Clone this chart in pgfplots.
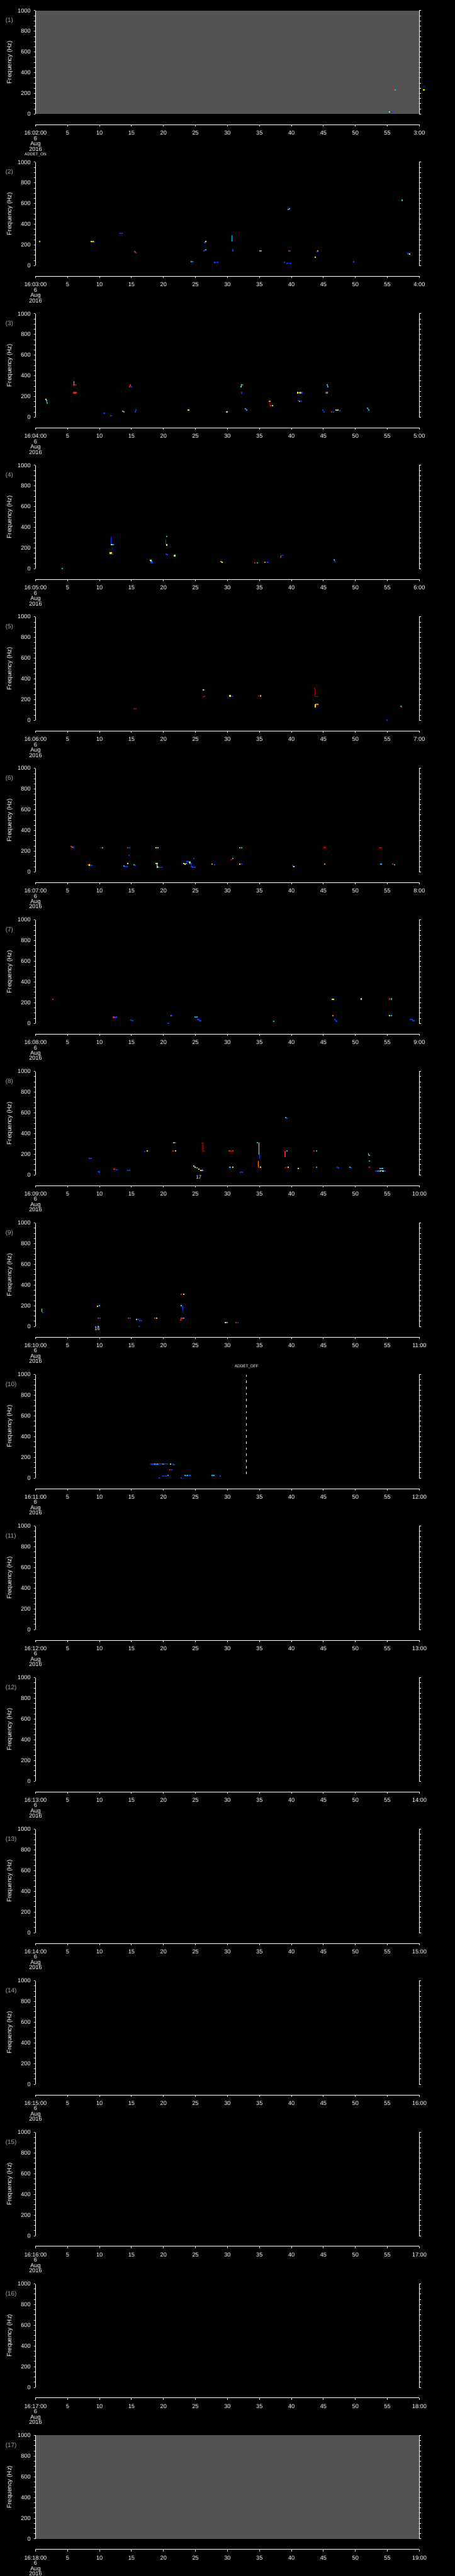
\documentclass[border=0pt]{standalone}
\usepackage{fontspec}
\setmainfont{Liberation Sans}
\usepackage{pgfplots}
\pgfplotsset{compat=1.18}
\definecolor{bg}{RGB}{84,84,84}
\definecolor{jblue}{RGB}{0,60,255}
\definecolor{jcyan}{RGB}{0,190,255}
\definecolor{jteal}{RGB}{40,255,200}
\definecolor{jgreen}{RGB}{150,255,90}
\definecolor{jyellow}{RGB}{255,235,0}
\definecolor{jorange}{RGB}{255,140,0}
\definecolor{jred}{RGB}{255,20,0}
\definecolor{jdred}{RGB}{170,0,0}
\definecolor{lab}{RGB}{170,170,170}
\newcommand{\ticfont}{\fontsize{6.5}{6}\selectfont}
\newcommand{\lblfont}{\fontsize{7}{8}\selectfont}
\pgfplotsset{
  panel/.style={scale only axis, width=432pt, height=116.5pt, anchor=north west,
    xmin=0, xmax=60, ymin=0, ymax=1000, clip=false,
    axis line style={draw=none}, xtick=\empty,
    ytick={0,200,...,1000}, minor y tick num=3, ytick pos=both, yticklabel pos=left,
    tick align=outside, major tick length=2pt, minor tick length=1.6pt,
    tick style={white, line width=0.7pt},
    yticklabel style={white, font=\ticfont},
    /pgf/number format/assume math mode=true,
    /pgf/number format/1000 sep={},
    ylabel={Frequency (Hz)},
    every axis y label/.style={at={(rel axis cs:0,0.5)}, rotate=90, anchor=center, yshift=29pt, white, font=\lblfont},
    execute at end axis={\draw[white, line width=0.8pt] (rel axis cs:0,0) -- (rel axis cs:0,1) (rel axis cs:1,0) -- (rel axis cs:1,1);}
  },
  timeax/.style={scale only axis, width=432pt, height=10pt, anchor=south west,
    xmin=0, xmax=60, ymin=0, ymax=1, hide y axis, axis x line*=bottom,
    x axis line style={white, line width=0.7pt},
    xtick={0,5,...,60}, tick align=outside, major tick length=2pt,
    tick style={white, line width=0.7pt},
    xticklabel style={white, font=\ticfont, align=center, yshift=-1.5pt}
  },
  seg/.style={line width=0.7pt, mark=square*, mark size=0.4pt, mark options={solid}},
}
\newcommand{\p}[2]{\addplot[#1,seg] coordinates {#2};}
\newcommand{\vl}[2]{\addplot[#1,line width=0.5pt] coordinates {#2};}
\newcommand{\timeaxis}[3]{\begin{axis}[timeax, at={(40pt,-#1pt)}, xticklabels={{#2\\6\\Aug\\2016},5,10,15,20,25,30,35,40,45,50,55,#3}]\end{axis}}
\begin{document}
\begin{tikzpicture}
\useasboundingbox (0,0) rectangle (512pt,-2901pt);
\fill[black] (0,0) rectangle (512pt,-2901pt);
\foreach \k in {1,...,17} {\node[anchor=west, lab, font=\lblfont, inner sep=0pt] at (6pt, {-(23.5+170.667*(\k-1))*1pt}) {(\k)};}

% ---------- panel 1
\begin{axis}[panel, at={(40pt,-12pt)}, axis background/.style={fill=bg}]
\p{jred}{(55.9,233)} \p{jcyan}{(56.2,233)}
\p{jblue}{(55.5,23) (55.8,23)} \p{jgreen}{(55.3,23)}
\p{jyellow}{(60.7,233)}
\end{axis}
\timeaxis{140.5}{16:02:00}{3:00}
\node[white, font=\fontsize{4.5}{5}\selectfont] at (40pt,-174pt) {ADDET\_ON};

% ---------- panel 2
\begin{axis}[panel, at={(40pt,-182.67pt)}]
\p{jyellow}{(0.66,232)}
\p{jyellow}{(8.7,232) (9.0,232)} \p{jblue}{(9.2,228)}
\p{jblue}{(13.2,310) (13.5,310)}
\p{jred}{(15.5,135) (15.6,130)} \p{jblue}{(15.7,125)}
\p{jcyan}{(24.4,40)} \p{jblue}{(24.6,40)}
\p{jblue}{(26.4,220) (26.5,230)} \p{jyellow}{(26.6,232)}
\p{jblue}{(26.35,140) (26.45,150)} \p{jcyan}{(26.6,157)}
\p{jblue}{(28.0,30) (28.5,35)}
\vl{jcyan}{(30.7,232) (30.7,297)}
\p{jblue}{(30.8,140) (30.8,157)}
\p{jorange}{(35.1,142)} \p{jcyan}{(35.3,140)}
\p{jred}{(39.6,140)} \p{jblue}{(39.8,140)}
\p{jcyan}{(39.5,542) (39.7,549)}
\p{jblue}{(38.9,32)} \p{jblue}{(39.3,23) (39.9,23)}
\p{jyellow}{(43.7,80)}
\p{jblue}{(44.0,138)} \p{jorange}{(44.1,143)}
\p{jblue}{(49.7,36)}
\p{jcyan}{(57.3,628) (57.3,636)}
\p{jblue}{(58.2,115) (58.4,115)} \p{jyellow}{(58.5,113)}
\end{axis}
\timeaxis{311.17}{16:03:00}{4:00}

% ---------- panel 3
\begin{axis}[panel, at={(40pt,-353.33pt)}]
\p{jyellow}{(1.64,171)} \p{jcyan}{(1.7,160) (1.8,137)}
\vl{jteal}{(5.95,314) (5.95,347)} \p{jred}{(6.0,314)} \p{jblue}{(6.3,314)}
\p{jred}{(6.0,236) (6.3,236)}
\p{jblue}{(10.7,39) (10.8,39)}
\p{jblue}{(11.8,13)}
\p{jorange}{(13.6,59)} \p{jcyan}{(13.8,52)}
\p{jred}{(14.7,294) (14.8,309)} \p{jblue}{(15.0,296)}
\p{jblue}{(15.6,50) (15.7,69)}
\p{jyellow}{(23.9,69)}
\p{jgreen}{(29.9,51)}
\p{jteal}{(32.1,293) (32.2,314)} \p{jcyan}{(32.3,314)}
\p{jblue}{(32.2,236)}
\p{jcyan}{(32.8,83) (33.0,69)}
\p{jorange}{(36.6,154)} \vl{jdred}{(36.6,154) (36.6,111)} \p{jred}{(36.7,111)} \p{jyellow}{(37.0,111)}
\p{jyellow}{(41.0,236) (41.4,236)} \p{jcyan}{(41.5,236)} \p{jblue}{(41.7,236)}
\p{jblue}{(41.1,161)} \p{jorange}{(41.3,156)} \p{jblue}{(41.6,154)}
\p{jblue}{(44.9,69) (45.1,50)}
\p{jcyan}{(45.6,314) (45.7,294)}
\p{jred}{(45.4,236)} \p{jcyan}{(45.6,236)}
\p{jred}{(46.3,51)} \p{jblue}{(46.6,51)}
\p{jgreen}{(47.0,69) (47.3,69)} \p{jblue}{(47.6,64)}
\p{jcyan}{(51.9,86) (52.1,69)}
\end{axis}
\timeaxis{481.83}{16:04:00}{5:00}

% ---------- panel 4
\begin{axis}[panel, at={(40pt,-524pt)}]
\p{jcyan}{(4.2,0)}
\vl{jblue}{(11.8,234) (11.8,311)} \p{jyellow}{(11.9,231)} \p{jcyan}{(12.1,234)}
\p{jyellow}{(11.7,151) (11.85,151)} \p{jblue}{(12.0,143)}
\p{jyellow}{(18.0,83)} \p{jcyan}{(18.1,70)} \p{jblue}{(18.2,60)}
\vl{jblue}{(20.35,230) (20.35,283)} \p{jyellow}{(20.5,230)}
\p{jcyan}{(20.5,314)}
\p{jblue}{(20.4,140) (20.6,136)}
\p{jgreen}{(21.7,127) (21.8,127)}
\p{jorange}{(29.0,67)} \p{jyellow}{(29.2,63)}
\p{jred}{(34.3,59)} \p{jcyan}{(34.7,59)}
\p{jorange}{(35.9,63)} \p{jblue}{(36.3,63)}
\p{jred}{(38.3,111)} \vl{jcyan}{(38.4,115) (38.4,131)} \p{jblue}{(38.6,131)}
\p{jcyan}{(46.7,86) (46.8,67)} \p{jblue}{(46.8,67)}
\end{axis}
\timeaxis{652.5}{16:05:00}{6:00}

% ---------- panel 5
\begin{axis}[panel, at={(40pt,-694.67pt)}]
\p{jdred}{(15.4,111) (15.7,111)}
\p{jdred}{(26.2,227) (26.4,231)}
\p{jgreen}{(26.2,296)} \p{jblue}{(26.4,296)}
\p{jyellow}{(30.4,236)} \p{jblue}{(30.7,234)}
\p{jdred}{(34.9,231)} \p{jorange}{(35.2,236)}
\addplot[jdred, line width=0.7pt] coordinates {(43.5,309) (43.7,309) (43.7,231) (44.2,231)};
\p{jorange}{(43.8,154) (44.1,154)} \p{jyellow}{(43.7,133) (43.7,150)}
\p{jblue}{(54.9,0)}
\p{jcyan}{(57.1,137)} \p{jred}{(57.2,131)}
\end{axis}
\timeaxis{823.17}{16:06:00}{7:00}

% ---------- panel 6
\begin{axis}[panel, at={(40pt,-865.33pt)}]
\p{jred}{(5.6,244)} \p{jorange}{(5.75,240)} \p{jblue}{(5.9,236)}
\p{jdred}{(10.2,231)} \p{jcyan}{(10.5,231)}
\p{jred}{(14.4,234)} \p{jblue}{(14.7,231)}
\p{jblue}{(14.6,159)}
\p{jyellow}{(18.8,234)} \p{jteal}{(19.1,231)}
\p{jgreen}{(18.8,79) (19.0,79) (19.0,47) (19.3,43)} \p{jblue}{(19.3,43) (19.7,43)}
\p{jred}{(8.2,70)} \p{jyellow}{(8.4,66)} \p{jblue}{(8.6,64) (8.8,64)}
\p{jcyan}{(13.8,54)} \p{jblue}{(14.0,50) (14.3,50)}
\p{jyellow}{(14.45,79)}
\p{jcyan}{(15.4,69)} \p{jblue}{(15.6,64)}
\p{jyellow}{(23.2,79) (23.4,76)} \p{jcyan}{(23.6,79)}
\p{jblue}{(23.7,97) (23.9,97)} \p{jgreen}{(24.1,93) (24.2,83)} \p{jblue}{(24.3,80) (24.4,50) (24.6,43) (24.9,43)}
\p{jblue}{(24.7,129)}
\p{jorange}{(27.6,73)} \p{jblue}{(28.0,70)}
\p{jdred}{(30.6,116)} \p{jcyan}{(30.8,129)}
\p{jorange}{(31.9,234)} \p{jcyan}{(32.2,231)}
\p{jyellow}{(31.9,73)} \p{jblue}{(32.2,73)}
\p{jblue}{(40.2,64) (40.3,50)} \p{jyellow}{(40.4,50)}
\p{jdred}{(45.1,236) (45.3,236)}
\p{jorange}{(45.2,77)}
\p{jdred}{(53.8,231) (54.0,231)}
\p{jcyan}{(54.0,77)}
\p{jred}{(55.8,73)} \p{jcyan}{(56.1,69)}
\end{axis}
\timeaxis{993.83}{16:07:00}{8:00}

% ---------- panel 7
\begin{axis}[panel, at={(40pt,-1036pt)}]
\p{jred}{(2.7,231)}
\p{jred}{(12.2,59)} \p{jblue}{(12.5,56) (12.6,59)}
\p{jblue}{(14.9,30) (15.2,24)}
\p{jblue}{(20.7,0) (20.8,0)}
\p{jorange}{(21.2,73)} \p{jblue}{(21.3,73)}
\p{jcyan}{(24.9,60) (25.2,60)}
\p{jblue}{(25.3,40) (25.5,40) (25.6,26) (25.8,26)}
\p{jcyan}{(37.2,21)}
\p{jyellow}{(46.4,234) (46.6,234)}
\p{jorange}{(46.5,77)}
\p{jblue}{(46.8,36) (47.0,26) (47.1,20)}
\p{jgreen}{(50.9,236)}
\p{jred}{(55.3,236)} \p{jcyan}{(55.6,236)}
\p{jyellow}{(55.3,77)} \p{jcyan}{(55.6,77)}
\p{jblue}{(58.6,39) (58.9,39)}
\p{jblue}{(59.0,26) (59.2,26)}
\end{axis}
\timeaxis{1164.5}{16:08:00}{9:00}

% ---------- panel 8
\begin{axis}[panel, at={(40pt,-1206.67pt)}]
\p{jblue}{(8.4,159) (8.7,159)}
\p{jblue}{(9.8,31) (10.0,29)}
\p{jred}{(12.3,56)} \p{jblue}{(12.6,52) (12.7,50)}
\p{jblue}{(14.4,43) (14.7,43)}
\p{jblue}{(17.1,229)} \p{jyellow}{(17.5,231)}
\p{jorange}{(21.6,313) (21.8,313)} \p{jblue}{(21.9,309)}
\p{jred}{(21.5,231)} \p{jyellow}{(21.9,231)}
\addplot[jdred, line width=0.7pt] coordinates {(25.9,309) (26.2,309) (26.2,231) (26.5,231)};
\p{jgreen}{(24.7,86)} \p{jyellow}{(24.9,77)} \p{jcyan}{(25.2,70)} \p{jyellow}{(25.5,57)} \p{jyellow}{(25.8,43) (26.1,43)} \p{jblue}{(26.2,43)}
\p{jcyan}{(30.4,77)} \p{jyellow}{(30.8,77)}
\p{jred}{(30.3,231) (30.8,231)}
\p{jblue}{(32.0,26) (32.3,26)}
\p{jcyan}{(34.7,309)} \vl{jyellow}{(34.95,309) (34.95,197)} \vl{jblue}{(35.0,197) (35.0,157)}
\vl{jorange}{(34.8,133) (34.8,77)} \p{jred}{(34.9,77)} \p{jyellow}{(35.2,77)}
\addplot[jred, line width=0.9pt] coordinates {(39.0,231) (39.0,171)}; \p{jcyan}{(39.3,231)}
\p{jdred}{(39.0,71) (39.2,74)} \p{jyellow}{(39.5,77)}
\p{jcyan}{(39.1,554)} \p{jblue}{(39.3,547)}
\p{jyellow}{(41.1,62)}
\p{jred}{(43.5,231)} \p{jcyan}{(43.9,231)}
\p{jdred}{(43.4,77)} \p{jcyan}{(43.9,77)}
\p{jblue}{(47.2,74) (47.4,70)}
\p{jcyan}{(49.1,77)} \p{jblue}{(49.3,71)}
\vl{jteal}{(52.0,207) (52.0,190)} \p{jcyan}{(52.2,189)}
\p{jcyan}{(52.2,133)}
\p{jred}{(52.2,77)}
\p{jcyan}{(53.9,60) (54.2,60)}
\p{jblue}{(53.2,36) (53.5,40)} \p{jcyan}{(53.6,39)} \p{jgreen}{(53.9,39) (54.3,39)} \p{jblue}{(54.6,39)}
\end{axis}
\timeaxis{1335.17}{16:09:00}{10:00}
\node[white, font=\fontsize{5.5}{6}\selectfont] at (223.75pt,-1326pt) {17};

% ---------- panel 9
\begin{axis}[panel, at={(40pt,-1377.33pt)}]
\vl{jgreen}{(1.0,169) (1.0,143)} \p{jblue}{(1.1,133)}
\p{jyellow}{(9.7,196)} \p{jcyan}{(10.0,200)}
\p{jred}{(9.8,81)} \p{jblue}{(10.1,81)}
\p{jblue}{(9.4,0)} \p{jcyan}{(9.8,0)}
\p{jred}{(14.5,81)} \p{jblue}{(14.8,81)}
\p{jteal}{(15.8,69)} \p{jblue}{(16.1,66)}
\p{jblue}{(16.3,56) (16.6,56)}
\p{jblue}{(16.2,0)}
\p{jred}{(18.6,81)} \p{jgreen}{(18.9,81)}
\p{jred}{(22.8,309)} \p{jyellow}{(23.2,309)}
\p{jteal}{(22.8,200)} \vl{jblue}{(23.0,200) (23.0,147)}
\p{jred}{(22.7,64) (22.8,79) (23.0,81)} \p{jcyan}{(23.2,81)}
\p{jyellow}{(29.7,39)} \p{jcyan}{(29.9,39)}
\p{jred}{(31.3,39)} \p{jblue}{(31.6,39)}
\end{axis}
\timeaxis{1505.83}{16:10:00}{11:00}
\node[white, font=\fontsize{5.5}{6}\selectfont] at (109.5pt,-1496.5pt) {16};

% ---------- panel 10
\begin{axis}[panel, at={(40pt,-1548pt)}]
\p{jblue}{(18.1,136) (18.4,136)} \p{jcyan}{(18.6,136) (19.0,134)} \p{jblue}{(19.2,136) (19.8,136)} \p{jcyan}{(19.9,134)} \p{jblue}{(20.1,136) (20.6,136)} \p{jgreen}{(21.1,136)} \p{jblue}{(21.5,132) (21.7,129)}
\p{jred}{(21.0,79)} \p{jblue}{(21.3,79)}
\p{jblue}{(19.9,19) (20.4,21)} \p{jcyan}{(20.7,24)}
\p{jblue}{(19.3,0)}
\p{jcyan}{(23.4,24) (23.8,24)} \p{jblue}{(24.1,24)}
\p{jblue}{(22.8,0)}
\p{jcyan}{(27.6,24) (27.9,24)}
\p{jblue}{(28.9,21)}
\addplot[white, line width=0.7pt, dash pattern=on 2.65pt off 4.2pt] coordinates {(33,1000) (33,12)};
\end{axis}
\timeaxis{1676.5}{16:11:00}{12:00}
\node[white, font=\fontsize{4.5}{5}\selectfont] at (277.5pt,-1539pt) {ADDET\_OFF};

% ---------- panels 11-16 (empty)
\begin{axis}[panel, at={(40pt,-1718.67pt)}]\end{axis}
\timeaxis{1847.17}{16:12:00}{13:00}
\begin{axis}[panel, at={(40pt,-1889.33pt)}]\end{axis}
\timeaxis{2017.83}{16:13:00}{14:00}
\begin{axis}[panel, at={(40pt,-2060pt)}]\end{axis}
\timeaxis{2188.5}{16:14:00}{15:00}
\begin{axis}[panel, at={(40pt,-2230.67pt)}]\end{axis}
\timeaxis{2359.17}{16:15:00}{16:00}
\begin{axis}[panel, at={(40pt,-2401.33pt)}]\end{axis}
\timeaxis{2529.83}{16:16:00}{17:00}
\begin{axis}[panel, at={(40pt,-2572pt)}]\end{axis}
\timeaxis{2700.5}{16:17:00}{18:00}

% ---------- panel 17
\begin{axis}[panel, at={(40pt,-2742.67pt)}, axis background/.style={fill=bg}]\end{axis}
\timeaxis{2871.17}{16:18:00}{19:00}
\end{tikzpicture}
\end{document}
